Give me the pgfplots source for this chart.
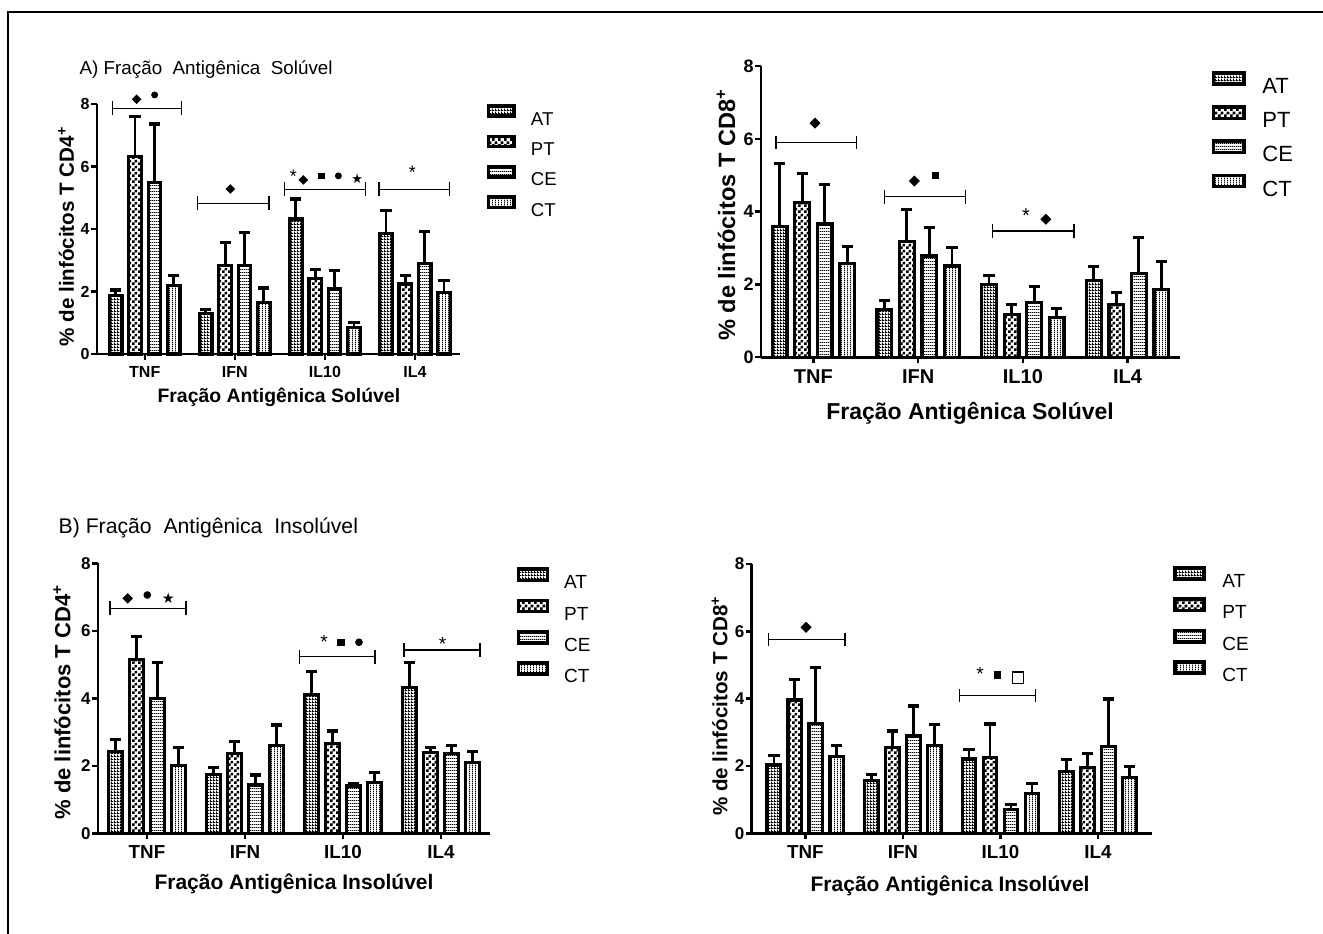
\documentclass[border=0pt]{standalone}
\usepackage{fontspec}
\setmainfont{Liberation Sans}
\newfontfamily\dejavu{DejaVu Sans}
\usepackage{pgfplots}
\pgfplotsset{compat=1.18}
\usepackage{pgfplotstable}
\usetikzlibrary{patterns}

\pgfdeclarepatternformonly{fgrid}{\pgfpointorigin}{\pgfqpoint{1.5pt}{1.5pt}}{\pgfqpoint{1.5pt}{1.5pt}}{%
  \pgfpathrectangle{\pgfpointorigin}{\pgfqpoint{1.5pt}{0.6pt}}%
  \pgfpathrectangle{\pgfpointorigin}{\pgfqpoint{0.6pt}{1.5pt}}%
  \pgfusepath{fill}}
\pgfdeclarepatternformonly{checker}{\pgfpointorigin}{\pgfqpoint{3pt}{3pt}}{\pgfqpoint{3pt}{3pt}}{%
  \pgfpathrectangle{\pgfpointorigin}{\pgfqpoint{1.5pt}{1.5pt}}%
  \pgfpathrectangle{\pgfqpoint{1.5pt}{1.5pt}}{\pgfqpoint{1.5pt}{1.5pt}}%
  \pgfusepath{fill}}
\pgfdeclarepatternformonly{hl}{\pgfpointorigin}{\pgfqpoint{1pt}{1.6pt}}{\pgfqpoint{1pt}{1.6pt}}{%
  \pgfpathrectangle{\pgfpointorigin}{\pgfqpoint{1pt}{0.6pt}}\pgfusepath{fill}}
\pgfdeclarepatternformonly{vl}{\pgfpointorigin}{\pgfqpoint{1.6pt}{1pt}}{\pgfqpoint{1.6pt}{1pt}}{%
  \pgfpathrectangle{\pgfpointorigin}{\pgfqpoint{0.6pt}{1pt}}\pgfusepath{fill}}

\newcommand{\fs}[1]{\fontsize{#1}{#1}\selectfont}

\pgfplotsset{
  legw/.initial=13pt, legh/.initial=2.6pt,
  gp/.style={scale only axis, axis lines=left,
    axis line style={-, line width=1.3pt, black},
    ymin=0, ymax=8, ytick={0,2,4,6,8},
    xtick={0,1,2,3}, xticklabels={TNF,IFN,IL10,IL4},
    tick align=outside, major tick length=3pt,
    tick style={line width=1.2pt, black},
    /pgf/number format/assume math mode=true, clip=false,
    tick label style={inner sep=0pt},
    xticklabel style={yshift=-3pt},
    yticklabel style={xshift=-0.5pt},
    xlabel style={anchor=center}, ylabel style={anchor=center},
    legend cell align=left,
    legend style={draw=none, fill=none, inner sep=0pt, outer sep=0pt, anchor=north west},
  },
  gbar/.style={ybar, bar width=0.14, bar shift=0pt, draw=black, /tikz/line width=1.6pt,
    legend image code/.code={\draw[##1, /tikz/line width=1.8pt] (0pt,0.36em) ++(0pt,{-\pgfkeysvalueof{/pgfplots/legh}}) rectangle ++({\pgfkeysvalueof{/pgfplots/legw}},{2*\pgfkeysvalueof{/pgfplots/legh}});},
    error bars/y dir=plus, error bars/y explicit,
    error bars/error mark=-,
    error bars/error bar style={line width=1.4pt, black},
    error bars/error mark options={rotate=90, line width=1.6pt, mark size=2.8pt, black}},
  ann/.style={only marks, black, forget plot, line width=0.4pt},
}

\newcommand\brk[4]{\addplot[black, line width=0.6pt, forget plot, mark=none,
  error bars/y dir=both, error bars/y fixed=#4, error bars/error mark=none,
  error bars/error bar style={line width=0.6pt}] coordinates {(#1,#3) (#2,#3)};}

\newcommand\bars[1]{%
  \addplot[gbar, pattern=fgrid] table[x expr=\thisrow{x}-0.3225, y=AT, y error=ATe] {#1};
  \addplot[gbar, pattern=checker] table[x expr=\thisrow{x}-0.1075, y=PT, y error=PTe] {#1};
  \addplot[gbar, pattern=hl] table[x expr=\thisrow{x}+0.1075, y=CE, y error=CEe] {#1};
  \addplot[gbar, pattern=vl] table[x expr=\thisrow{x}+0.3225, y=CT, y error=CTe] {#1};
  \legend{AT,PT,CE,CT}}

% A) CD4, soluble
\pgfplotstableread{
x AT ATe PT PTe CE CEe CT CTe
0 1.87 0.18 6.31 1.28 5.50 1.86 2.19 0.33
1 1.30 0.13 2.83 0.74 2.83 1.07 1.65 0.46
2 4.32 0.64 2.42 0.29 2.08 0.58 0.84 0.17
3 3.86 0.73 2.24 0.27 2.89 1.04 1.97 0.37
}\tA
% CD8, soluble
\pgfplotstableread{
x AT ATe PT PTe CE CEe CT CTe
0 3.59 1.74 4.26 0.79 3.66 1.09 2.58 0.46
1 1.32 0.24 3.17 0.88 2.78 0.78 2.51 0.51
2 2.00 0.25 1.18 0.28 1.51 0.43 1.09 0.24
3 2.11 0.38 1.46 0.32 2.31 0.99 1.87 0.76
}\tB
% B) CD4, insoluble
\pgfplotstableread{
x AT ATe PT PTe CE CEe CT CTe
0 2.42 0.35 5.14 0.69 4.00 1.06 2.02 0.52
1 1.75 0.21 2.37 0.36 1.43 0.30 2.60 0.61
2 4.12 0.67 2.67 0.36 1.40 0.08 1.50 0.31
3 4.32 0.74 2.39 0.16 2.37 0.23 2.09 0.33
}\tC
% CD8, insoluble
\pgfplotstableread{
x AT ATe PT PTe CE CEe CT CTe
0 2.03 0.27 3.96 0.61 3.27 1.65 2.28 0.34
1 1.58 0.17 2.54 0.50 2.89 0.89 2.60 0.64
2 2.21 0.29 2.26 0.99 0.71 0.15 1.19 0.30
3 1.83 0.37 1.95 0.43 2.57 1.42 1.66 0.32
}\tD

\begin{document}
\begin{tikzpicture}
\useasboundingbox (0,0) rectangle (661.5pt,466.5pt);
\draw[line width=1pt] (4pt,-5pt) -- (4pt,460.5pt) -- (680pt,460.5pt);

\node[anchor=base west, inner sep=0pt, font=\fs{9.4}] at (39.65pt,429pt) {A) Fração\ \ Antigênica\ \ Solúvel};
\node[anchor=base west, inner sep=0pt, font=\fs{10.6}] at (29.15pt,199.85pt) {B) Fração\ \ Antigênica\ \ Insolúvel};

% ---------- Panel 1 ----------
\begin{axis}[gp, at={(48.5pt,289.5pt)}, anchor=south west,
  width=181.5pt, height=125pt, xmin=-0.53, xmax=3.5,
  xticklabel style={font=\bfseries\fs{8}}, yticklabel style={font=\bfseries\fs{8}},
  xlabel={Fração Antigênica Solúvel},
  xlabel style={font=\bfseries\fs{9.7}, at={(axis description cs:0.501,-0.172)}},
  ylabel={\% de linfócitos T CD4\textsuperscript{+}},
  ylabel style={font=\bfseries\fs{10.3}, at={(axis description cs:-0.085,0.47)}},
  legw=12.75pt, legh=2.55pt,
  legend style={at={(axis description cs:1.074,0.999)}, font=\fs{9.3}, row sep=4.8pt,
    nodes={inner sep=0pt, text height=6.7pt, text depth=0pt},
    /tikz/every odd column/.append style={column sep=7.5pt}}]
\bars{\tA}
\brk{-0.36}{0.41}{7.86}{0.22}
\brk{0.59}{1.38}{4.82}{0.22}
\brk{1.55}{2.45}{5.27}{0.22}
\brk{2.60}{3.38}{5.27}{0.22}
\addplot[ann, mark=square*, mark size=1.5pt, mark options={rotate=45}] coordinates {(-0.09,8.15) (0.95,5.28) (1.76,5.57)};
\addplot[ann, mark=*, mark size=1.5pt] coordinates {(0.11,8.29) (2.15,5.70)};
\addplot[ann, mark=square*, mark size=1.4pt] coordinates {(1.96,5.70)};
\addplot[ann, mark=text, text mark={\dejavu ★}, text mark as node=true, text mark style={font=\fs{6.5}}] coordinates {(2.36,5.62)};
\addplot[ann, mark=text, text mark={*}, text mark as node=true, text mark style={font=\fs{9}}] coordinates {(1.65,5.70) (2.97,5.81)};
\end{axis}

% ---------- Panel 2 ----------
\begin{axis}[gp, at={(380.5pt,287.85pt)}, anchor=south west,
  width=209.5pt, height=145.65pt, xmin=-0.5, xmax=3.5,
  xticklabel style={font=\bfseries\fs{10}}, yticklabel style={font=\bfseries\fs{9}},
  xlabel={Fração Antigênica Solúvel},
  xlabel style={font=\bfseries\fs{11.5}, at={(axis description cs:0.499,-0.191)}},
  ylabel={\% de linfócitos T CD8\textsuperscript{+}},
  ylabel style={font=\bfseries\fs{11.8}, at={(axis description cs:-0.0835,0.489)}},
  legw=15.25pt, legh=2.8pt,
  legend style={at={(axis description cs:1.0756,0.982)}, font=\fs{11}, row sep=5.8pt,
    nodes={inner sep=0pt, text height=7.9pt, text depth=0pt},
    /tikz/every odd column/.append style={column sep=8.3pt}}]
\bars{\tB}
\brk{-0.357}{0.414}{5.90}{0.19}
\brk{0.677}{1.454}{4.41}{0.19}
\brk{1.708}{2.488}{3.47}{0.19}
\addplot[ann, mark=square*, mark size=1.75pt, mark options={rotate=45}] coordinates {(0.016,6.43) (0.964,4.84) (2.22,3.79)};
\addplot[ann, mark=square*, mark size=1.6pt] coordinates {(1.167,4.99)};
\addplot[ann, mark=text, text mark={*}, text mark as node=true, text mark style={font=\fs{10}}] coordinates {(2.03,3.90)};
\end{axis}

% ---------- Panel 3 ----------
\begin{axis}[gp, at={(49pt,49.85pt)}, anchor=south west,
  width=196pt, height=135pt, xmin=-0.5, xmax=3.5,
  xticklabel style={font=\bfseries\fs{9.4}}, yticklabel style={font=\bfseries\fs{8.5}},
  xlabel={Fração Antigênica Insolúvel},
  xlabel style={font=\bfseries\fs{10.5}, at={(axis description cs:0.5,-0.188)}},
  ylabel={\% de linfócitos T CD4\textsuperscript{+}},
  ylabel style={font=\bfseries\fs{11}, at={(axis description cs:-0.092,0.486)}},
  legw=14.45pt, legh=2.8pt,
  legend style={at={(axis description cs:1.068,0.985)}, font=\fs{9.5}, row sep=4.95pt,
    nodes={inner sep=0pt, text height=6.8pt, text depth=0pt},
    /tikz/every odd column/.append style={column sep=7.5pt}}]
\bars{\tC}
\brk{-0.378}{0.398}{6.67}{0.2}
\brk{1.554}{2.327}{5.23}{0.2}
\brk{2.622}{3.398}{5.43}{0.2}
\addplot[ann, mark=square*, mark size=1.65pt, mark options={rotate=45}] coordinates {(-0.197,6.96)};
\addplot[ann, mark=*, mark size=1.7pt] coordinates {(0.003,7.06) (2.163,5.66)};
\addplot[ann, mark=square*, mark size=1.6pt] coordinates {(1.98,5.66)};
\addplot[ann, mark=text, text mark={\dejavu ★}, text mark as node=true, text mark style={font=\fs{7.2}}] coordinates {(0.218,6.96)};
\addplot[ann, mark=text, text mark={*}, text mark as node=true, text mark style={font=\fs{9.5}}] coordinates {(1.806,5.66) (3.017,5.61)};
\end{axis}

% ---------- Panel 4 ----------
\begin{axis}[gp, at={(375.85pt,49.85pt)}, anchor=south west,
  width=200pt, height=134.65pt, xmin=-0.55, xmax=3.55,
  xticklabel style={font=\bfseries\fs{9.4}}, yticklabel style={font=\bfseries\fs{8.5}},
  xlabel={Fração Antigênica Insolúvel},
  xlabel style={font=\bfseries\fs{10.5}, at={(axis description cs:0.496,-0.196)}},
  ylabel={\% de linfócitos T CD8\textsuperscript{+}},
  ylabel style={font=\bfseries\fs{10.3}, at={(axis description cs:-0.08,0.473)}},
  legw=14.45pt, legh=2.8pt,
  legend style={at={(axis description cs:1.054,0.992)}, font=\fs{9.5}, row sep=4.95pt,
    nodes={inner sep=0pt, text height=6.8pt, text depth=0pt},
    /tikz/every odd column/.append style={column sep=8.3pt}}]
\bars{\tD}
\brk{-0.38}{0.406}{5.76}{0.2}
\brk{1.578}{2.361}{4.09}{0.2}
\addplot[ann, mark=square*, mark size=1.75pt, mark options={rotate=45}] coordinates {(0.007,6.12)};
\addplot[ann, mark=square*, mark size=1.6pt] coordinates {(1.97,4.70)};
\addplot[ann, mark=square, mark size=2.8pt, line width=0.8pt] coordinates {(2.18,4.62)};
\addplot[ann, mark=text, text mark={*}, text mark as node=true, text mark style={font=\fs{9.5}}] coordinates {(1.79,4.73)};
\end{axis}
\end{tikzpicture}
\end{document}
